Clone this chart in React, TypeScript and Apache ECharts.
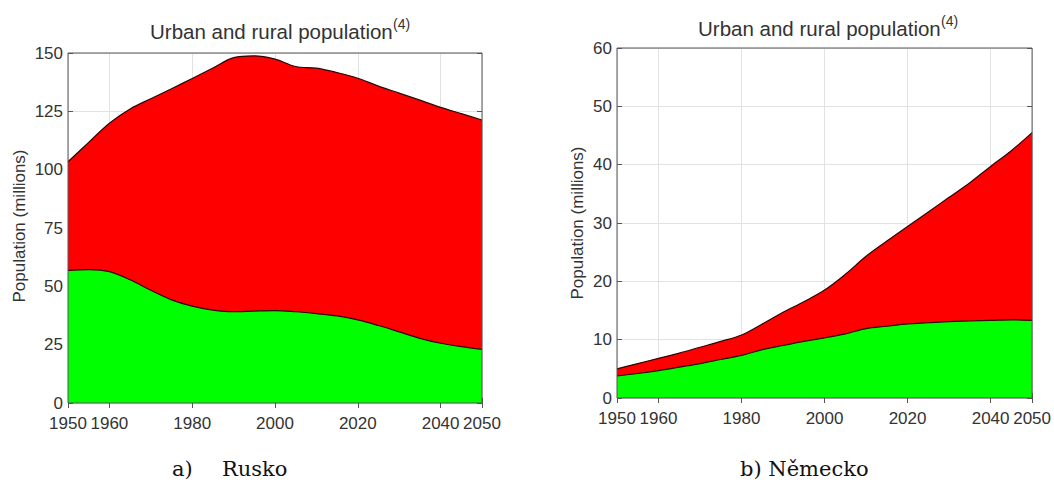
import React, { useEffect, useRef } from "react";
import * as echarts from "echarts";

// Years sampled every 5 years, 1950–2050
const years = [
  1950, 1955, 1960, 1965, 1970, 1975, 1980, 1985, 1990, 1995, 2000,
  2005, 2010, 2015, 2020, 2025, 2030, 2035, 2040, 2045, 2050,
];

// Rusko (millions): rural (green, bottom) and urban (red, on top of rural)
const ruskoRural = [
  56.8, 57.2, 56.3, 52.8, 48.3, 44.2, 41.5, 39.8, 39.1, 39.4, 39.6,
  39.1, 38.3, 37.3, 35.6, 33.2, 30.5, 27.7, 25.6, 24.2, 23.0,
];
const ruskoUrban = [
  46.6, 54.5, 63.6, 73.2, 82.1, 90.5, 97.6, 103.8, 108.9, 109.4, 107.8,
  105.1, 105.2, 104.3, 103.6, 102.6, 102.3, 102.1, 101.1, 99.8, 98.3,
];

// Německo (millions)
const nemeckoRural = [
  3.8, 4.2, 4.7, 5.3, 5.9, 6.6, 7.3, 8.3, 9.0, 9.7, 10.3,
  11.0, 11.9, 12.3, 12.7, 12.9, 13.1, 13.2, 13.3, 13.4, 13.3,
];
const nemeckoUrban = [
  1.2, 1.7, 2.1, 2.4, 2.8, 3.1, 3.5, 4.4, 5.7, 6.8, 8.2,
  10.2, 12.4, 14.6, 16.7, 19.0, 21.3, 23.7, 26.4, 29.0, 32.2,
];

// Axis ticks and labels
const xTickValues = [1950, 1960, 1980, 2000, 2020, 2040, 2050];
const ruskoYMax = 150;
const ruskoYStep = 25;
const nemeckoYMax = 60;
const nemeckoYStep = 10;

const chartTitle = "Urban and rural population";
const titleNote = "(4)";
const yName = "Population (millions)";
const captionLeftTag = "a)";
const captionLeftName = "Rusko";
const captionRight = "b) Německo";

const SANS = "'Liberation Sans', Arial, Helvetica, sans-serif";
const SERIF = "'DejaVu Serif', serif";
const TEXT = "#333";
const FRAME = "#555";
const GRIDLINE = "#e2e2e2";
const EDGE = "#2a0606";

const pairs = (vals: number[]) => years.map((y, i) => [y, vals[i]]);
// urban population sits on top of the rural one
const stacked = (rural: number[], urban: number[]) =>
  years.map((y, i) => [y, +(rural[i] + urban[i]).toFixed(2)]);

function xAxes(gridIndex: number) {
  return [
    {
      gridIndex,
      type: "value",
      min: 1950,
      max: 2050,
      position: "bottom",
      axisLine: { show: false },
      axisTick: {
        inside: true,
        length: 5,
        customValues: xTickValues,
        lineStyle: { color: FRAME },
      },
      axisLabel: {
        customValues: xTickValues,
        showMinLabel: true,
        showMaxLabel: true,
        hideOverlap: false,
        formatter: (v: number) => String(v),
        margin: 12,
        fontSize: 17,
        color: TEXT,
        fontFamily: SANS,
      },
      splitLine: { show: true, lineStyle: { color: GRIDLINE, width: 1 } },
    },
    {
      gridIndex,
      type: "value",
      min: 1950,
      max: 2050,
      position: "top",
      axisLine: { show: false },
      axisTick: {
        inside: true,
        length: 5,
        customValues: xTickValues,
        lineStyle: { color: FRAME },
      },
      axisLabel: { show: false },
      splitLine: { show: false },
    },
  ];
}

function yAxes(gridIndex: number, max: number, step: number) {
  return [
    {
      gridIndex,
      type: "value",
      min: 0,
      max,
      interval: step,
      position: "left",
      axisLine: { show: false },
      axisTick: { inside: true, length: 5, lineStyle: { color: FRAME } },
      axisLabel: {
        margin: 5,
        fontSize: 17,
        color: TEXT,
        fontFamily: SANS,
      },
      splitLine: { show: true, lineStyle: { color: GRIDLINE, width: 1 } },
    },
    {
      gridIndex,
      type: "value",
      min: 0,
      max,
      interval: step,
      position: "right",
      axisLine: { show: false },
      axisTick: { inside: true, length: 5, lineStyle: { color: FRAME } },
      axisLabel: { show: false },
      splitLine: { show: false },
    },
  ];
}

function areaPair(xIndex: number, yIndex: number, rural: number[], urban: number[]) {
  const common = {
    type: "line",
    xAxisIndex: xIndex,
    yAxisIndex: yIndex,
    smooth: 0.35,
    showSymbol: false,
    symbol: "none",
    silent: true,
    lineStyle: { color: EDGE, width: 1.2 },
  };
  return [
    {
      ...common,
      name: "urban",
      z: 2,
      data: stacked(rural, urban),
      areaStyle: { color: "#ff0000", opacity: 1 },
    },
    {
      ...common,
      name: "rural",
      z: 3,
      data: pairs(rural),
      areaStyle: { color: "#00ff00", opacity: 1 },
    },
  ];
}

function titleTexts(left: number, noteLeft: number, midY: number) {
  return [
    {
      type: "text",
      x: left,
      y: midY,
      style: {
        text: chartTitle,
        font: `20.5px ${SANS}`,
        fill: TEXT,
        textAlign: "left",
        textVerticalAlign: "middle",
      },
    },
    {
      type: "text",
      x: noteLeft,
      y: midY - 7,
      style: {
        text: titleNote,
        font: `14px ${SANS}`,
        fill: TEXT,
        textAlign: "left",
        textVerticalAlign: "middle",
      },
    },
  ];
}

function yNameText(cx: number, cy: number) {
  return {
    type: "text",
    x: cx,
    y: cy,
    rotation: Math.PI / 2,
    style: {
      text: yName,
      font: `17px ${SANS}`,
      fill: TEXT,
      textAlign: "center",
      textVerticalAlign: "middle",
    },
  };
}

function caption(text: string, x: number) {
  return {
    type: "text",
    x,
    y: 469,
    style: {
      text,
      font: `21px ${SERIF}`,
      fill: "#111",
      textAlign: "left",
      textVerticalAlign: "middle",
    },
  };
}

export default function App() {
  const ref = useRef<HTMLDivElement>(null);

  useEffect(() => {
    if (!ref.current) return;
    const chart = echarts.init(ref.current, undefined, { renderer: "svg" });

    chart.setOption({
      animation: false,
      backgroundColor: "#ffffff",
      grid: [
        {
          left: 68,
          top: 53,
          width: 414,
          height: 350,
          show: true,
          borderColor: FRAME,
          borderWidth: 1,
          z: 10,
        },
        {
          left: 617,
          top: 48,
          width: 416,
          height: 350,
          show: true,
          borderColor: FRAME,
          borderWidth: 1,
          z: 10,
        },
      ],
      xAxis: [...xAxes(0), ...xAxes(1)],
      yAxis: [
        ...yAxes(0, ruskoYMax, ruskoYStep),
        ...yAxes(1, nemeckoYMax, nemeckoYStep),
      ],
      series: [
        ...areaPair(0, 0, ruskoRural, ruskoUrban),
        ...areaPair(2, 2, nemeckoRural, nemeckoUrban),
      ],
      graphic: [
        ...titleTexts(150, 393, 31),
        ...titleTexts(698, 941, 28),
        yNameText(19, 226),
        yNameText(577, 223),
        caption(captionLeftTag, 172),
        caption(captionLeftName, 222),
        caption(captionRight, 740),
      ],
    });

    return () => chart.dispose();
  }, []);

  return (
    <div
      ref={ref}
      style={{
        position: "fixed",
        left: 0,
        top: 0,
        width: 1054,
        height: 483,
        background: "#fff",
      }}
    />
  );
}
